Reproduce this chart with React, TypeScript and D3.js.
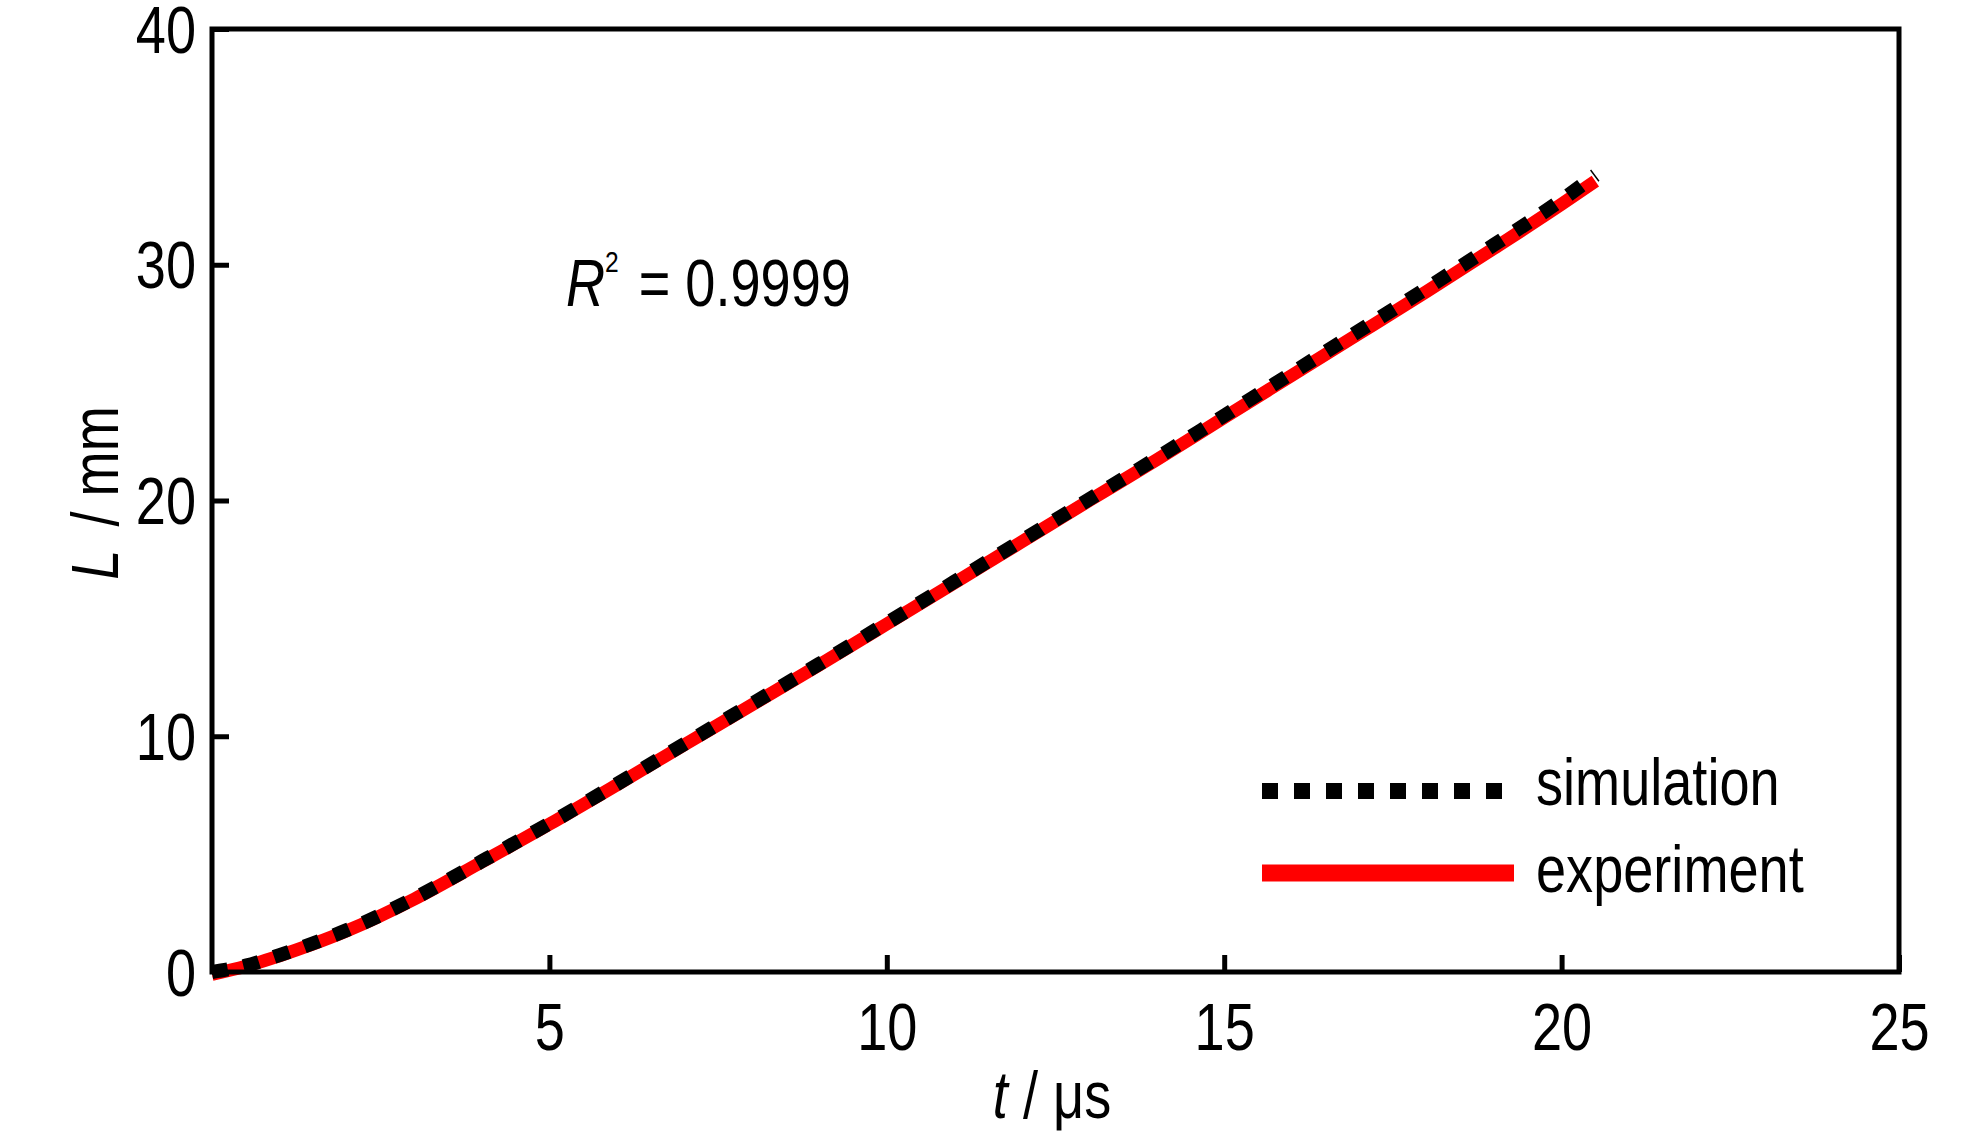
import * as d3 from 'd3';
import React, { useRef, useEffect } from 'react';

// time axis values, in microseconds
const timeUs = [0, 0.5, 1, 1.5, 2, 3, 4, 5, 6, 7, 8, 9, 10, 11, 12, 13, 14, 15, 16, 17, 18, 19, 20, 20.5];
// crack length L in mm
const simulationL = [0, 0.27, 0.72, 1.22, 1.78, 3.13, 4.7, 6.3, 7.97, 9.67, 11.37, 13.07, 14.8, 16.55, 18.3, 20.05, 21.8, 23.6, 25.4, 27.2, 29.0, 30.85, 32.75, 33.8];
const experimentL = [-0.1, 0.24, 0.69, 1.19, 1.75, 3.1, 4.67, 6.27, 7.94, 9.64, 11.33, 13.03, 14.76, 16.5, 18.25, 20.0, 21.73, 23.52, 25.3, 27.08, 28.87, 30.7, 32.57, 33.55];

const xTicks = [5, 10, 15, 20, 25];
const yTicks = [0, 10, 20, 30, 40];
const legendLabels = ['simulation', 'experiment'];
const r2Text = '0.9999';

const FONT = "'Liberation Sans', Arial, sans-serif";
// the original uses a condensed face; squeeze the regular one horizontally
const SQUEEZE = 'scale(0.82, 1)';

const App: React.FC = () => {
    const svgRef = useRef<SVGSVGElement | null>(null);

    useEffect(() => {
        const width = 1984;
        const height = 1134;
        const l = 212;
        const r = 1899;
        const t = 29;
        const b = 972;

        const svg = d3.select(svgRef.current).attr('width', width).attr('height', height);
        svg.selectAll('*').remove();

        svg.append('rect').attr('width', width).attr('height', height).attr('fill', '#FFFFFF');

        const x = d3.scaleLinear().domain([0, 25]).range([l, r]);
        const y = d3.scaleLinear().domain([0, 40]).range([b, t]);

        const line = (vals: number[]) =>
            d3.line<number>()
                .x((_, i) => x(timeUs[i]))
                .y(d => y(d))
                .curve(d3.curveMonotoneX)(vals);

        // experiment underneath, simulation dashes on top
        svg.append('path')
            .attr('d', line(experimentL))
            .attr('fill', 'none')
            .attr('stroke', '#FF0000')
            .attr('stroke-width', 13);

        svg.append('path')
            .attr('d', line(simulationL))
            .attr('fill', 'none')
            .attr('stroke', '#000000')
            .attr('stroke-width', 14)
            .attr('stroke-dasharray', '16 16');

        // axes
        const xAxis = svg.append('g')
            .attr('transform', `translate(0, ${b})`)
            .call(d3.axisBottom(x).tickValues(xTicks).tickSizeInner(-17).tickSizeOuter(0));
        const yAxis = svg.append('g')
            .attr('transform', `translate(${l}, 0)`)
            .call(d3.axisLeft(y).tickValues(yTicks).tickSizeInner(-17).tickSizeOuter(0));

        [xAxis, yAxis].forEach(g => {
            g.select('.domain').remove();
            g.selectAll('line').attr('stroke', '#000').attr('stroke-width', 5);
            g.selectAll('text')
                .attr('font-family', FONT)
                .attr('font-size', 66)
                .attr('fill', '#000');
        });
        xAxis.selectAll('text')
            .attr('x', 0).attr('y', 0).attr('dy', 0)
            .attr('transform', `translate(0, 78) ${SQUEEZE}`);
        yAxis.selectAll('text')
            .attr('x', 0).attr('dy', '0.35em')
            .attr('transform', `translate(-16, 0) ${SQUEEZE}`);

        // frame
        svg.append('rect')
            .attr('x', l)
            .attr('y', t)
            .attr('width', r - l)
            .attr('height', b - t)
            .attr('fill', 'none')
            .attr('stroke', '#000')
            .attr('stroke-width', 5);

        // axis titles
        const xt = svg.append('text')
            .attr('transform', `translate(1052, 1118) ${SQUEEZE}`)
            .attr('text-anchor', 'middle')
            .attr('font-family', FONT)
            .attr('font-size', 66);
        xt.append('tspan').attr('font-style', 'italic').text('t');
        xt.append('tspan').text(' / μs');

        const yt = svg.append('text')
            .attr('transform', `translate(118, 493) rotate(-90) ${SQUEEZE}`)
            .attr('text-anchor', 'middle')
            .attr('font-family', FONT)
            .attr('font-size', 66);
        yt.append('tspan').attr('font-style', 'italic').text('L');
        yt.append('tspan').attr('dx', 10).text(' / mm');

        // R^2 annotation
        const rt = svg.append('text')
            .attr('transform', `translate(566, 306) ${SQUEEZE}`)
            .attr('font-family', FONT)
            .attr('font-size', 66);
        rt.append('tspan').attr('font-style', 'italic').text('R');
        rt.append('tspan').attr('font-size', 30).attr('dy', -34).text('2');
        rt.append('tspan').attr('dy', 34).attr('dx', 6).text(` = ${r2Text}`);

        // legend
        const leg = svg.append('g');
        leg.append('line')
            .attr('x1', 1262).attr('x2', 1502)
            .attr('y1', 791).attr('y2', 791)
            .attr('stroke', '#000')
            .attr('stroke-width', 16)
            .attr('stroke-dasharray', '16 16');
        leg.append('line')
            .attr('x1', 1262).attr('x2', 1514)
            .attr('y1', 873).attr('y2', 873)
            .attr('stroke', '#FF0000')
            .attr('stroke-width', 17);
        leg.selectAll('text.lab')
            .data(legendLabels)
            .enter()
            .append('text')
            .attr('class', 'lab')
            .attr('transform', (_, i) => `translate(1536, ${805 + i * 87}) ${SQUEEZE}`)
            .attr('font-family', FONT)
            .attr('font-size', 66)
            .text(d => d);
    }, []);

    return (
        <svg ref={svgRef} style={{ position: 'absolute', left: 0, top: 0 }}></svg>
    );
};

export default App;
